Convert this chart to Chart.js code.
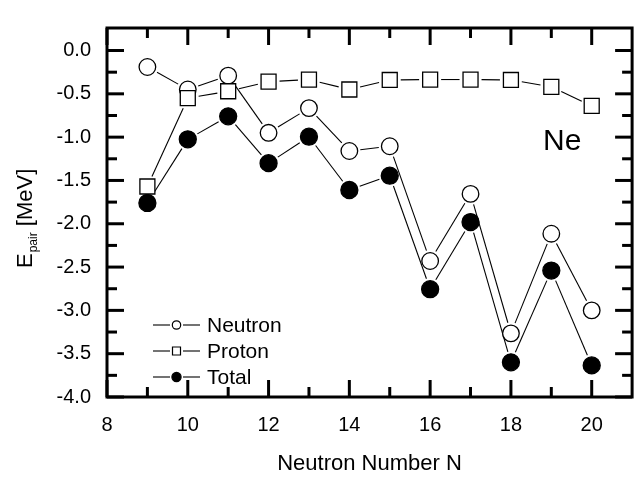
<!DOCTYPE html>
<html>
<head>
<meta charset="utf-8">
<title>Ne pairing energy</title>
<script src="https://cdn.jsdelivr.net/npm/chart.js@4.4.1/dist/chart.umd.min.js"></script>
<style>
    html, body { margin: 0; padding: 0; background: #fff; overflow: hidden; }
    #wrap { width: 636px; height: 483px; overflow: hidden; }
</style>
</head>
<body>
<div id="wrap"><canvas id="chart" width="644" height="483"></canvas></div>
<script>
// 中子數 N
const neutronNumbers = [9, 10, 11, 12, 13, 14, 15, 16, 17, 18, 19, 20];

// 配對能 E_pair (MeV)
const neutronPair = [-0.19, -0.45, -0.29, -0.95, -0.665, -1.16, -1.105, -2.43, -1.655, -3.265, -2.115, -3.0];
const protonPair  = [-1.57, -0.55, -0.47, -0.36, -0.335, -0.45, -0.34, -0.335, -0.335, -0.34, -0.42, -0.64];
const totalPair   = [-1.76, -1.025, -0.76, -1.30, -0.995, -1.61, -1.445, -2.755, -1.98, -3.60, -2.54, -3.635];

// 刻度
const xTicks = [8, 10, 12, 14, 16, 18, 20];
const xMinorTicks = [9, 11, 13, 15, 17, 19];
const yTicks = [-4, -3.5, -3, -2.5, -2, -1.5, -1, -0.5, 0];
const yMinorTicks = [-3.75, -3.25, -2.75, -2.25, -1.75, -1.25, -0.75, -0.25];

const FONT = '"Liberation Sans", Arial, sans-serif';

const toPoints = values => neutronNumbers.map((n, i) => ({ x: n, y: values[i] }));

// 連線在點附近留空 (Origin 風格), 再畫框線、內向刻度、圖例與標題
const decorPlugin = {
    id: 'decor',
    beforeDatasetsDraw(chart) {
        const ctx = chart.ctx;
        ctx.save();
        ctx.strokeStyle = '#000';
        ctx.lineWidth = 1.1;
        chart.data.datasets.forEach((ds, i) => {
            const pts = chart.getDatasetMeta(i).data;
            const g = ds.lineGap;
            for (let k = 0; k < pts.length - 1; k++) {
                const p0 = pts[k], p1 = pts[k + 1];
                const dx = p1.x - p0.x, dy = p1.y - p0.y;
                const len = Math.hypot(dx, dy);
                if (len <= 2 * g) continue;
                const ux = dx / len, uy = dy / len;
                ctx.beginPath();
                ctx.moveTo(p0.x + ux * g, p0.y + uy * g);
                ctx.lineTo(p1.x - ux * g, p1.y - uy * g);
                ctx.stroke();
            }
        });
        ctx.restore();
    },
    afterDraw(chart) {
        const { ctx, chartArea: a, scales: { x, y } } = chart;
        ctx.save();
        ctx.strokeStyle = '#000';
        ctx.fillStyle = '#000';
        ctx.lineWidth = 3;
        ctx.lineCap = 'butt';

        // 外框
        ctx.strokeRect(a.left, a.top, a.right - a.left, a.bottom - a.top);

        const seg = (x1, y1, x2, y2) => {
            ctx.beginPath();
            ctx.moveTo(x1, y1);
            ctx.lineTo(x2, y2);
            ctx.stroke();
        };
        const xTick = (v, len) => {
            const px = x.getPixelForValue(v);
            seg(px, a.bottom, px, a.bottom - len);
            seg(px, a.top, px, a.top + len);
        };
        const yTick = (v, len) => {
            const py = y.getPixelForValue(v);
            seg(a.left, py, a.left + len, py);
            seg(a.right, py, a.right - len, py);
        };
        xTicks.forEach(v => xTick(v, 17));
        xMinorTicks.forEach(v => xTick(v, 10));
        yTicks.forEach(v => yTick(v, 17));
        yMinorTicks.forEach(v => yTick(v, 10));

        // 圖例
        ctx.lineWidth = 1.1;
        const legendOrder = [1, 0, 2];
        legendOrder.forEach((di, row) => {
            const ds = chart.data.datasets[di];
            const ly = a.top + 297 + row * 26;
            const lx = a.left + 46;
            seg(lx, ly, lx + 17, ly);
            seg(lx + 30, ly, lx + 47, ly);
            const mx = lx + 23.5;
            ctx.lineWidth = 1.2;
            ctx.fillStyle = ds.pointBackgroundColor;
            ctx.beginPath();
            if (ds.pointStyle === 'rect') {
                ctx.rect(mx - 4, ly - 4, 8, 8);
            } else {
                ctx.arc(mx, ly, ds.pointBackgroundColor === '#000' ? 4.6 : 4.2, 0, Math.PI * 2);
            }
            ctx.fill();
            ctx.stroke();
            ctx.lineWidth = 1.1;
            ctx.fillStyle = '#000';
            ctx.font = `21px ${FONT}`;
            ctx.textBaseline = 'alphabetic';
            ctx.textAlign = 'left';
            ctx.fillText(ds.label, lx + 54, ly + 7);
        });

        // Ne 標記
        ctx.font = `30px ${FONT}`;
        ctx.fillText('Ne', 543, 150);

        // Y 軸標題 (含下標)
        ctx.translate(a.left - 75, 268);
        ctx.rotate(-Math.PI / 2);
        ctx.font = `22px ${FONT}`;
        ctx.fillText('E', 0, 0);
        let w = ctx.measureText('E').width;
        ctx.font = `12px ${FONT}`;
        ctx.fillText('pair', w + 1, 5);
        w += 1 + ctx.measureText('pair').width;
        ctx.font = `22px ${FONT}`;
        ctx.fillText(' [MeV]', w, 0);
        ctx.restore();
    }
};

const markerBase = {
    showLine: false,
    borderColor: '#000',
    pointBorderColor: '#000',
    pointBorderWidth: 1.3,
    pointHoverRadius: undefined
};

new Chart(document.getElementById('chart'), {
    type: 'scatter',
    data: {
        datasets: [
            {
                ...markerBase,
                label: 'Proton',
                data: toPoints(protonPair),
                pointStyle: 'rect',
                pointRadius: 10.6,
                pointHoverRadius: 10.6,
                pointBackgroundColor: '#fff',
                lineGap: 11,
                order: 0
            },
            {
                ...markerBase,
                label: 'Neutron',
                data: toPoints(neutronPair),
                pointStyle: 'circle',
                pointRadius: 8.3,
                pointHoverRadius: 8.3,
                pointBackgroundColor: '#fff',
                lineGap: 11,
                order: 1
            },
            {
                ...markerBase,
                label: 'Total',
                data: toPoints(totalPair),
                pointStyle: 'circle',
                pointRadius: 8.5,
                pointHoverRadius: 8.5,
                pointBackgroundColor: '#000',
                lineGap: 11,
                order: 2
            }
        ]
    },
    options: {
        responsive: false,
        devicePixelRatio: 1,
        animation: false,
        events: [],
        layout: { padding: { top: 2, right: 3, bottom: 0, left: 0 } },
        plugins: {
            legend: { display: false },
            tooltip: { enabled: false }
        },
        scales: {
            x: {
                type: 'linear',
                min: 8,
                max: 21,
                afterFit: scale => { scale.height = 86; },
                afterBuildTicks: scale => { scale.ticks = xTicks.map(v => ({ value: v })); },
                grid: { display: false, drawTicks: false },
                border: { display: false },
                ticks: {
                    padding: 16,
                    color: '#000',
                    autoSkip: false,
                    maxRotation: 0,
                    font: { family: FONT, size: 20 }
                },
                title: {
                    display: true,
                    text: 'Neutron Number N',
                    color: '#000',
                    font: { family: FONT, size: 22 },
                    padding: { top: 0, bottom: 6 }
                }
            },
            y: {
                type: 'linear',
                min: -4,
                max: 0.26,
                afterFit: scale => { scale.width = 107; },
                afterBuildTicks: scale => { scale.ticks = yTicks.map(v => ({ value: v })); },
                grid: { display: false, drawTicks: false },
                border: { display: false },
                ticks: {
                    padding: 16,
                    color: '#000',
                    autoSkip: false,
                    font: { family: FONT, size: 20 },
                    callback: v => v.toFixed(1)
                }
            }
        }
    },
    plugins: [decorPlugin]
});
</script>
</body>
</html>
